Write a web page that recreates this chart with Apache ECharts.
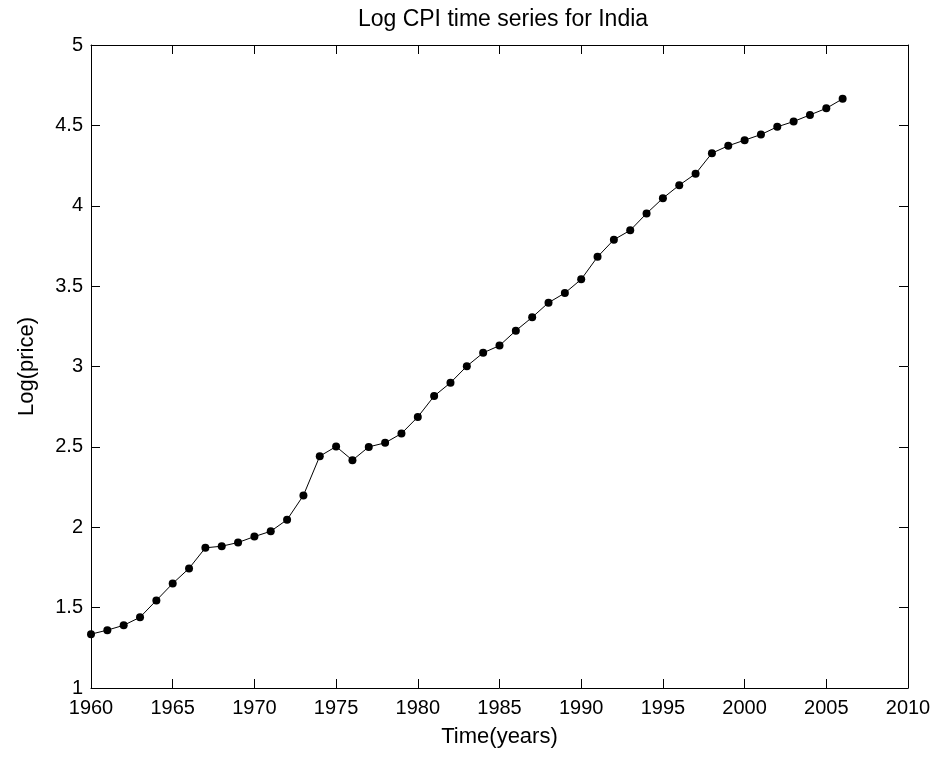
<!DOCTYPE html>
<html>
<head>
<meta charset="utf-8">
<title>Log CPI time series for India</title>
<script src="https://cdn.jsdelivr.net/npm/echarts@6/dist/echarts.min.js"></script>
<style>
  html, body { margin: 0; padding: 0; background: #fff; }
  #main { width: 940px; height: 759px; }
</style>
</head>
<body>
<div id="main"></div>
<script>
// years 1960 - 2006
var years = [];
for (var y = 1960; y <= 2006; y++) years.push(y);

// log CPI
var logPrice = [
  1.335, 1.36, 1.39, 1.44, 1.545, 1.65, 1.744, 1.872, 1.882, 1.905,
  1.942, 1.975, 2.047, 2.198, 2.442, 2.502, 2.417, 2.5, 2.525, 2.583,
  2.686, 2.816, 2.899, 3.002, 3.085, 3.13, 3.223, 3.306, 3.397, 3.457,
  3.542, 3.682, 3.789, 3.847, 3.952, 4.047, 4.128, 4.199, 4.327, 4.373,
  4.408, 4.443, 4.491, 4.524, 4.565, 4.606, 4.665
];

var xTicks = { min: 1960, max: 2010, interval: 5 };
var yTicks = { min: 1, max: 5, interval: 0.5 };

var points = [];
for (var i = 0; i < years.length; i++) {
  points.push([years[i], logPrice[i]]);
}

var chart = echarts.init(document.getElementById('main'));
var font = 'Liberation Sans, Arial, sans-serif';
var lineStyle = { color: '#000', width: 1 };

var option = {
  backgroundColor: '#fff',
  animation: false,
  title: {
    text: 'Log CPI time series for India',
    left: 498,
    textAlign: 'center',
    top: 3,
    textStyle: { fontFamily: font, fontSize: 23, fontWeight: 'normal', color: '#000' }
  },
  grid: { left: 91, right: 32, top: 45, bottom: 71 },
  xAxis: [{
    type: 'value',
    min: xTicks.min, max: xTicks.max, interval: xTicks.interval,
    name: 'Time(years)',
    nameLocation: 'middle',
    nameGap: 38,
    nameTextStyle: { fontFamily: font, fontSize: 22, color: '#000' },
    axisLine: { lineStyle: lineStyle },
    axisTick: { inside: true, length: 9, lineStyle: lineStyle },
    axisLabel: {
      fontFamily: font, fontSize: 20, color: '#000', margin: 10,
      formatter: function (v) { return String(v); }
    },
    splitLine: { show: false }
  }, {
    type: 'value', position: 'top',
    min: xTicks.min, max: xTicks.max, interval: xTicks.interval,
    axisLine: { lineStyle: lineStyle },
    axisTick: { inside: true, length: 9, lineStyle: lineStyle },
    axisLabel: { show: false },
    splitLine: { show: false }
  }],
  yAxis: [{
    type: 'value',
    min: yTicks.min, max: yTicks.max, interval: yTicks.interval,
    name: 'Log(price)',
    nameLocation: 'middle',
    nameGap: 53,
    nameRotate: 90,
    nameTextStyle: { fontFamily: font, fontSize: 22, color: '#000' },
    axisLine: { show: true, lineStyle: lineStyle },
    axisTick: { show: true, inside: true, length: 9, lineStyle: lineStyle },
    axisLabel: { fontFamily: font, fontSize: 20, color: '#000', margin: 8 },
    splitLine: { show: false }
  }, {
    type: 'value', position: 'right',
    min: yTicks.min, max: yTicks.max, interval: yTicks.interval,
    axisLine: { show: true, lineStyle: lineStyle },
    axisTick: { show: true, inside: true, length: 9, lineStyle: lineStyle },
    axisLabel: { show: false },
    splitLine: { show: false }
  }],
  series: [{
    type: 'line',
    data: points,
    symbol: 'circle',
    symbolSize: 8,
    itemStyle: { color: '#000' },
    lineStyle: { color: '#000', width: 1 }
  }]
};

chart.setOption(option);
</script>
</body>
</html>
